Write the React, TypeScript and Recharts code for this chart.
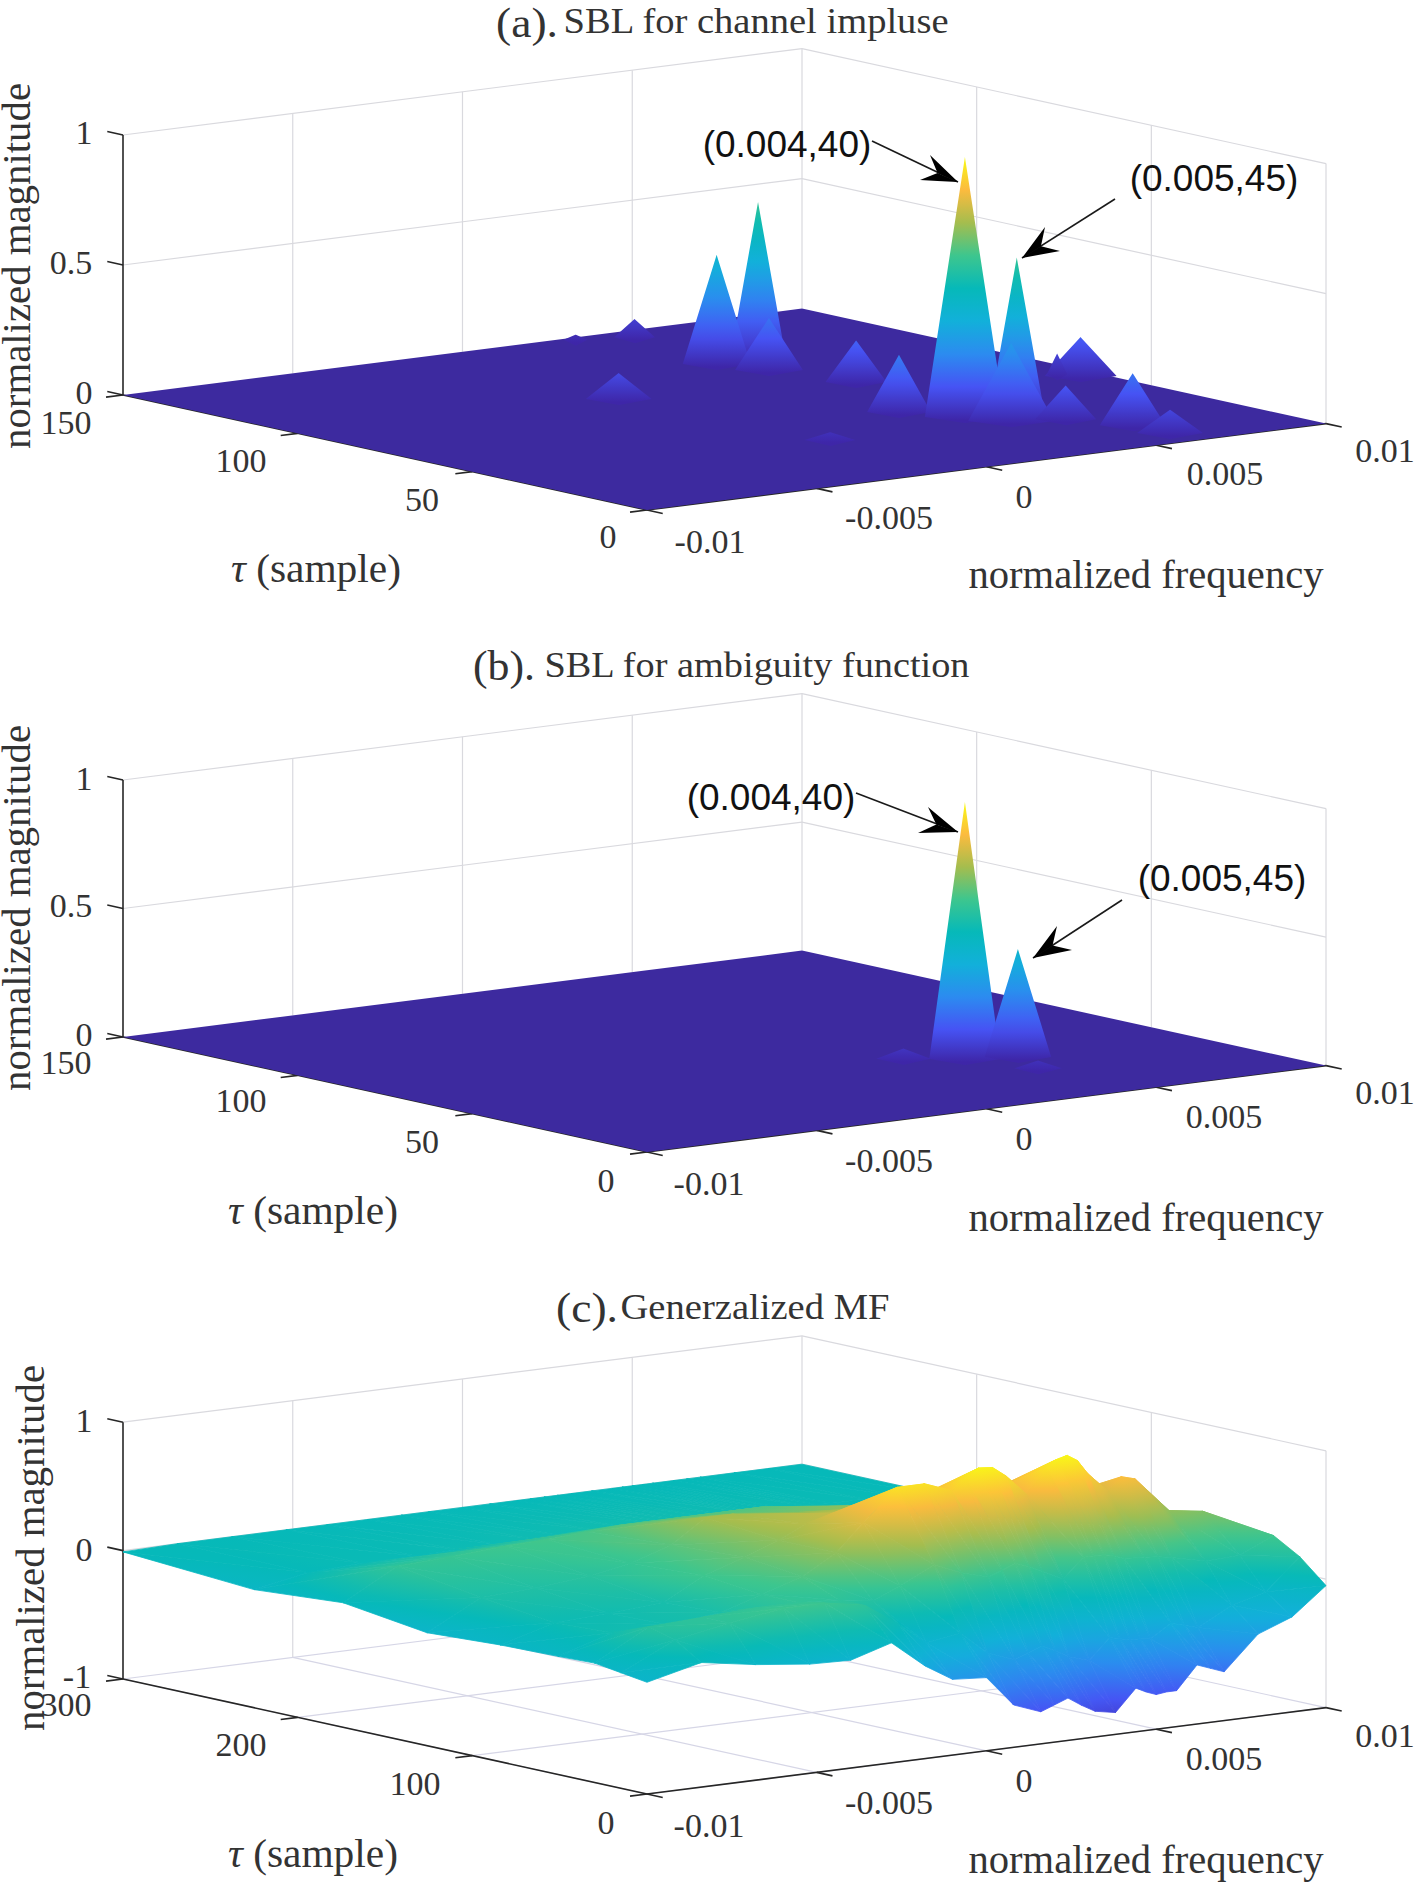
import { Area, ComposedChart, Line, ReferenceDot, XAxis, YAxis } from 'recharts'

const WIDTH = 1415
const HEIGHT = 1882

// tick values and labels
const freqTicks = [-0.01, -0.005, 0, 0.005, 0.01]
const freqLabels = ['-0.01', '-0.005', '0', '0.005', '0.01']
const tauTicksShort = [0, 50, 100, 150]
const tauLabelsShort = ['0', '50', '100', '150']
const tauTicksLong = [0, 100, 200, 300]
const tauLabelsLong = ['0', '100', '200', '300']

// peaks of panel (a)
const aPeakFreq = [0.00445, 0.00312, 0.00498, 0.0037, 0.00417, 0.00477, -0.0011, 0.00946, 0.00918, 0.00302, 0.00383, 0.0051, -0.00064, 0.00435, 0.00552, 0.00626, 0.00629]
const aPeakTau = [144, 148, 113.8, 113.2, 102.8, 83.7, 94.6, 65, 69, 54.4, 43.4, 40.9, 38.6, 35.2, 31, 19, 8.6]
const aPeakMag = [0.07, 0.02, 0.6, 0.42, 0.2, 0.16, 0.1, 0.15, 0.08, 0.22, 1, 0.6, 0.03, 0.3, 0.13, 0.2, 0.09]
const aPeakSpread = [0.0006, 0.00035, 0.00082, 0.001, 0.001, 0.0009, 0.00097, 0.00106, 0.0003, 0.00094, 0.00118, 0.00082, 0.00075, 0.00127, 0.0009, 0.00097, 0.00097]

// peaks of panel (b)
const bPeakFreq = [0.00383, 0.00499, 0.0027, 0.0044]
const bPeakTau = [43.4, 39.5, 50, 28]
const bPeakMag = [1, 0.42, 0.04, 0.03]
const bPeakSpread = [0.00105, 0.00098, 0.0008, 0.0007]

// surface of panel (c), one row of magnitudes per delay
const cFreq = [-0.01, -0.0084, -0.0068, -0.0052, -0.004, -0.0028, -0.0018, -0.001, 0, 0.0008, 0.0016, 0.002, 0.0024, 0.0028, 0.0032, 0.0038, 0.0044, 0.0047, 0.005, 0.0053, 0.0056, 0.0062, 0.0066, 0.007, 0.008, 0.009, 0.01]
const cTau = [300, 225, 174, 126, 84, 51, 30, 15, 0]
const cRow300 = [-0.01, 0, 0, 0, 0, 0, 0, 0, 0, 0, 0, 0, 0, 0, 0, 0, 0, 0, 0, 0, 0, 0, 0, 0, 0, 0, 0]
const cRow225 = [-0.08, 0, 0.02, 0.02, 0.03, 0.03, 0.04, 0.04, 0.05, 0.05, 0.05, 0.05, 0.05, 0.05, 0.05, 0.04, 0.04, 0.035, 0.03, 0.03, 0.03, 0.03, 0.025, 0.02, 0.02, 0.01, 0]
const cRow174 = [-0.03, 0.2, 0.22, 0.25, 0.26, 0.28, 0.3, 0.3, 0.3, 0.3, 0.3, 0.3, 0.3, 0.28, 0.25, 0.2, 0.18, 0.165, 0.15, 0.135, 0.12, 0.1, 0.09, 0.08, 0.05, 0.03, 0.02]
const cRow126 = [-0.12, 0.1, 0.12, 0.16, 0.22, 0.32, 0.5, 0.5, 0.45, 0.45, 0.42, 0.43, 0.45, 0.42, 0.4, 0.38, 0.38, 0.39, 0.4, 0.37, 0.35, 0.3, 0.27, 0.25, 0.18, 0.1, 0.05]
const cRow84 = [-0.09, 0.03, 0.05, 0.08, 0.25, 0.35, 0.45, 0.55, 0.6, 0.6, 0.6, 0.62, 0.65, 0.62, 0.6, 0.58, 0.62, 0.64, 0.66, 0.62, 0.58, 0.5, 0.47, 0.45, 0.3, 0.2, 0.15]
const cRow51 = [-0.08, 0.05, 0.06, 0.1, 0.2, 0.3, 0.45, 0.66, 0.9, 0.9, 0.82, 0.9, 0.97, 0.96, 0.88, 0.72, 0.9, 0.96, 0.98, 0.93, 0.82, 0.66, 0.76, 0.73, 0.45, 0.41, 0.22]
const cRow30 = [-0.07, 0.16, 0.18, 0.2, 0.2, 0.18, 0.14, 0.23, 0.36, 0.27, 0.21, 0.25, 0.29, 0.25, 0.2, 0.12, 0.27, 0.27, 0.27, 0.25, 0.22, 0.21, 0.2, 0.18, 0.12, 0.13, 0.25]
const cRow15 = [-0.1, 0.1, 0.18, 0.24, 0.24, 0.18, 0, -0.17, -0.13, -0.31, -0.39, -0.35, -0.31, -0.36, -0.42, -0.47, -0.31, -0.33, -0.35, -0.35, -0.36, -0.26, -0.29, -0.32, -0.18, -0.11, 0.13]
const cRow0 = [-0.13, -0.03, -0.1, -0.15, -0.16, -0.065, -0.28, -0.41, -0.43, -0.67, -0.75, -0.71, -0.67, -0.74, -0.8, -0.83, -0.66, -0.7, -0.73, -0.72, -0.72, -0.54, -0.58, -0.62, -0.36, -0.26, -0.05]
const cRows = [cRow300, cRow225, cRow174, cRow126, cRow84, cRow51, cRow30, cRow15, cRow0]

const PARULA = ['#3e26a8', '#4653f4', '#2c8bf0', '#12b0da', '#06b9b9', '#3dc68e', '#a5bd4e', '#fcbb3e', '#f9fb15']

function hex(c: string) {
  return [1, 3, 5].map((i) => parseInt(c.slice(i, i + 2), 16))
}

function parula(t: number) {
  const p = Math.min(Math.max(t, 0), 1) * (PARULA.length - 1)
  const i = Math.min(Math.floor(p), PARULA.length - 2)
  const a = hex(PARULA[i])
  const b = hex(PARULA[i + 1])
  const rgb = a.map((v, k) => Math.round(v + (b[k] - v) * (p - i)))
  return `rgb(${rgb.join(',')})`
}

type Pt = { x: number; y: number }

type Panel = {
  key: string
  offset: number
  zScale: number
  zFloor: number
  zTop: number
  tauMax: number
}

const panelA: Panel = { key: 'a', offset: 0, zScale: 260, zFloor: 0, zTop: 1, tauMax: 150 }
const panelB: Panel = { key: 'b', offset: 642, zScale: 257, zFloor: 0, zTop: 1, tauMax: 150 }
const panelC: Panel = { key: 'c', offset: 1284, zScale: 128.4, zFloor: -1, zTop: 1, tauMax: 300 }

// same fixed camera for the three axes, a linear map to the page
function project(p: Panel, freq: number, tau: number, z: number): Pt {
  const u = (freq + 0.01) / 0.02
  const v = tau / p.tauMax
  return {
    x: 647 + 679 * u - 524 * v,
    y: 510 + p.offset - 86.4 * u - 115 * v - p.zScale * (z - p.zFloor),
  }
}

// range rows for an Area from the corners of a polygon
function band(poly: Pt[]) {
  const xs = Array.from(new Set(poly.map((c) => Math.round(c.x * 100) / 100))).sort((a, b) => a - b)
  return xs.map((x) => {
    const ys: number[] = []
    poly.forEach((a, i) => {
      const b = poly[(i + 1) % poly.length]
      const x0 = Math.min(a.x, b.x) - 0.006
      const x1 = Math.max(a.x, b.x) + 0.006
      if (x < x0 || x > x1) return
      if (Math.abs(a.x - b.x) < 0.01) ys.push(a.y, b.y)
      else ys.push(a.y + ((b.y - a.y) * (x - a.x)) / (b.x - a.x))
    })
    return { x, band: [Math.min(...ys), Math.max(...ys)] as [number, number] }
  })
}

function gridLines(p: Panel, tauTicks: number[], zLevels: number[], color: string) {
  const lines: { id: string; data: Pt[]; color: string; w: number }[] = []
  const add = (id: string, a: Pt, b: Pt, c = color, w = 1.2) => lines.push({ id: p.key + id, data: [a, b], color: c, w })
  const back = tauTicks[tauTicks.length - 1]
  zLevels.forEach((z) => {
    add('zf' + z, project(p, -0.01, back, z), project(p, 0.01, back, z))
    add('zt' + z, project(p, 0.01, back, z), project(p, 0.01, 0, z))
  })
  freqTicks.slice(1).forEach((f) => add('vf' + f, project(p, f, back, p.zFloor), project(p, f, back, p.zTop)))
  tauTicks.slice(0, -1).forEach((t) => add('vt' + t, project(p, 0.01, t, p.zFloor), project(p, 0.01, t, p.zTop)))
  return lines
}

function floorGrid(p: Panel, tauTicks: number[]) {
  const c = '#d6d6e6'
  const lines: { id: string; data: Pt[]; color: string; w: number }[] = []
  const back = tauTicks[tauTicks.length - 1]
  freqTicks.forEach((f) => lines.push({ id: p.key + 'gf' + f, data: [project(p, f, 0, p.zFloor), project(p, f, back, p.zFloor)], color: c, w: 1.2 }))
  tauTicks.forEach((t) => lines.push({ id: p.key + 'gt' + t, data: [project(p, -0.01, t, p.zFloor), project(p, 0.01, t, p.zFloor)], color: c, w: 1.2 }))
  return lines
}

function axisLines(p: Panel, tauTicks: number[], zTicks: number[]) {
  const c = '#262626'
  const back = tauTicks[tauTicks.length - 1]
  const lines: { id: string; data: Pt[]; color: string; w: number }[] = []
  const add = (id: string, a: Pt, b: Pt) => lines.push({ id: p.key + id, data: [a, b], color: c, w: 1.6 })
  add('zaxis', project(p, -0.01, back, p.zFloor), project(p, -0.01, back, p.zTop))
  add('taxis', project(p, -0.01, 0, p.zFloor), project(p, -0.01, back, p.zFloor))
  add('faxis', project(p, -0.01, 0, p.zFloor), project(p, 0.01, 0, p.zFloor))
  zTicks.forEach((z) => add('zt' + z, project(p, -0.01, back, z), project(p, -0.01, back * 1.03, z)))
  freqTicks.forEach((f) => add('ft' + f, project(p, f, 0, p.zFloor), project(p, f, -back * 0.03, p.zFloor)))
  tauTicks.forEach((t) => add('tt' + t, project(p, -0.01, t, p.zFloor), project(p, -0.0105, t, p.zFloor)))
  return lines
}

type Facet = { id: string; rows: ReturnType<typeof band>; stroke: boolean }
type Grad = { id: string; x1: number; y1: number; x2: number; y2: number; stops: string[] }

// one kite per peak: tip, two base corners level on the page, near corner
function peakFacets(p: Panel, freq: number[], tau: number[], mag: number[], spread: number[]) {
  const facets: Facet[] = []
  const grads: Grad[] = []
  freq.forEach((f, i) => {
    const tip = project(p, f, tau[i], mag[i])
    const foot = project(p, f, tau[i], 0)
    const id = `peak-${p.key}-${i}`
    const stops = Array.from({ length: 9 }, (_, k) => parula(mag[i] * (1 - k / 8)))
    grads.push({ id, x1: 0, y1: tip.y, x2: 0, y2: foot.y + 3, stops })
    const df = spread[i] * 0.633
    const dt = (df / 0.02) * 0.75 * p.tauMax
    const poly = [
      tip,
      project(p, f + df, tau[i] - dt, 0),
      project(p, f - 0.0005, tau[i] - 5, 0),
      project(p, f - df, tau[i] + dt, 0),
    ]
    facets.push({ id, rows: band(poly), stroke: false })
  })
  return { facets, grads }
}

// triangle with z running linearly over the page, so neighbours join without a seam
function surfaceFacets(p: Panel) {
  const facets: Facet[] = []
  const grads: Grad[] = []
  const col = (z: number) => parula((z + 1) / 2)
  const tri = (id: string, pts: Pt[], zs: number[]) => {
    const [a, b, c] = pts
    const bx = b.x - a.x
    const by = b.y - a.y
    const cx = c.x - a.x
    const cy = c.y - a.y
    const det = bx * cy - by * cx
    if (Math.abs(det) < 1e-3) return
    const dzb = zs[1] - zs[0]
    const dzc = zs[2] - zs[0]
    const gx = (dzb * cy - dzc * by) / det
    const gy = (bx * dzc - cx * dzb) / det
    const g2 = gx * gx + gy * gy
    const lo = Math.min(...zs)
    const hi = Math.max(...zs)
    const flat = g2 < 1e-12
    const t0 = flat ? 0 : (lo - zs[0]) / g2
    const t1 = flat ? 0 : (hi - zs[0]) / g2
    grads.push({
      id,
      x1: a.x + gx * t0,
      y1: a.y + gy * t0,
      x2: flat ? a.x + 1 : a.x + gx * t1,
      y2: a.y + gy * t1,
      stops: [0, 0.25, 0.5, 0.75, 1].map((k) => col(lo + (hi - lo) * k)),
    })
    facets.push({ id, rows: band(pts), stroke: true })
  }
  for (let r = 0; r < cTau.length - 1; r++) {
    for (let c = cFreq.length - 2; c >= 0; c--) {
      const za = cRows[r][c]
      const zb = cRows[r][c + 1]
      const zd = cRows[r + 1][c + 1]
      const ze = cRows[r + 1][c]
      const a = project(p, cFreq[c], cTau[r], za)
      const b = project(p, cFreq[c + 1], cTau[r], zb)
      const d = project(p, cFreq[c + 1], cTau[r + 1], zd)
      const e = project(p, cFreq[c], cTau[r + 1], ze)
      tri(`tri-${r}-${c}-0`, [a, b, d], [za, zb, zd])
      tri(`tri-${r}-${c}-1`, [a, d, e], [za, zd, ze])
    }
  }
  return { facets, grads }
}

const floorPoly = (p: Panel) => [
  project(p, -0.01, 0, 0),
  project(p, 0.01, 0, 0),
  project(p, 0.01, p.tauMax, 0),
  project(p, -0.01, p.tauMax, 0),
]

const peaksA = peakFacets(panelA, aPeakFreq, aPeakTau, aPeakMag, aPeakSpread)
const peaksB = peakFacets(panelB, bPeakFreq, bPeakTau, bPeakMag, bPeakSpread)
const surfC = surfaceFacets(panelC)
const allGrads = [...peaksA.grads, ...peaksB.grads, ...surfC.grads]

const backLines = [
  ...gridLines(panelA, tauTicksShort, [0.5, 1], '#d9d9de'),
  ...gridLines(panelB, tauTicksShort, [0.5, 1], '#d9d9de'),
  ...gridLines(panelC, tauTicksLong, [0, 1], '#d9d9de'),
  ...floorGrid(panelC, tauTicksLong),
  ...axisLines(panelA, tauTicksShort, [0, 0.5, 1]),
  ...axisLines(panelB, tauTicksShort, [0, 0.5, 1]),
  ...axisLines(panelC, tauTicksLong, [-1, 0, 1]),
]

// annotation arrows: start, tip, two barbs
const arrows = [
  { id: 'a1', start: { x: 872, y: 141 }, tip: { x: 958, y: 182 }, b1: { x: 930, y: 155 }, b2: { x: 920, y: 180 } },
  { id: 'a2', start: { x: 1115, y: 199 }, tip: { x: 1022, y: 258 }, b1: { x: 1045, y: 227 }, b2: { x: 1060, y: 251 } },
  { id: 'b1', start: { x: 856, y: 793 }, tip: { x: 958, y: 832 }, b1: { x: 928, y: 807 }, b2: { x: 918, y: 833 } },
  { id: 'b2', start: { x: 1122, y: 900 }, tip: { x: 1033, y: 958 }, b1: { x: 1057, y: 926 }, b2: { x: 1072, y: 950 } },
]

type Txt = { t: string; x: number; y: number; size: number; len?: number; rot?: boolean; sans?: boolean; tau?: boolean }

const titleTexts: Txt[] = [
  { t: '(a).', x: 527, y: 23, size: 42, len: 62 },
  { t: 'SBL for channel impluse', x: 756, y: 21, size: 36, len: 385 },
  { t: '(b).', x: 504, y: 666, size: 42, len: 62 },
  { t: 'SBL for ambiguity function', x: 757, y: 665, size: 36, len: 425 },
  { t: '(c).', x: 587, y: 1308, size: 42, len: 62 },
  { t: 'Generzalized MF', x: 755, y: 1307, size: 36, len: 269 },
]

const axisTexts: Txt[] = [
  { t: 'normalized magnitude', x: 16, y: 266, size: 40, len: 366, rot: true },
  { t: 'normalized magnitude', x: 16, y: 908, size: 40, len: 366, rot: true },
  { t: 'normalized magnitude', x: 30, y: 1548, size: 40, len: 366, rot: true },
  { t: 'normalized frequency', x: 1146, y: 574, size: 40, len: 355 },
  { t: 'normalized frequency', x: 1146, y: 1217, size: 40, len: 355 },
  { t: 'normalized frequency', x: 1146, y: 1859, size: 40, len: 355 },
  { t: ' (sample)', x: 316, y: 568, size: 40, len: 170, tau: true },
  { t: ' (sample)', x: 313, y: 1210, size: 40, len: 170, tau: true },
  { t: ' (sample)', x: 313, y: 1853, size: 40, len: 170, tau: true },
]

const freqLabelPos = [
  [[710, 541], [889, 517], [1024, 496], [1225, 473], [1385, 450]],
  [[709, 1183], [889, 1160], [1024, 1138], [1224, 1116], [1385, 1092]],
  [[709, 1825], [889, 1802], [1024, 1780], [1224, 1758], [1385, 1735]],
]
const tauLabelPos = [
  [[608, 536], [422, 499], [241, 460], [66, 422]],
  [[606, 1180], [422, 1141], [241, 1100], [66, 1062]],
  [[606, 1822], [415, 1783], [241, 1744], [66, 1704]],
]

const tickTexts: Txt[] = [
  ...freqLabelPos.flatMap((row) => row.map(([x, y], i) => ({ t: freqLabels[i], x, y, size: 34 }))),
  ...tauLabelPos.slice(0, 2).flatMap((row) => row.map(([x, y], i) => ({ t: tauLabelsShort[i], x, y, size: 34 }))),
  ...tauLabelPos[2].map(([x, y], i) => ({ t: tauLabelsLong[i], x, y, size: 34 })),
  { t: '1', x: 84, y: 132, size: 34 },
  { t: '0.5', x: 71, y: 262, size: 34 },
  { t: '0', x: 84, y: 392, size: 34 },
  { t: '1', x: 84, y: 778, size: 34 },
  { t: '0.5', x: 71, y: 905, size: 34 },
  { t: '0', x: 84, y: 1034, size: 34 },
  { t: '1', x: 84, y: 1420, size: 34 },
  { t: '0', x: 84, y: 1549, size: 34 },
  { t: '-1', x: 77, y: 1676, size: 34 },
]

const noteTexts: Txt[] = [
  { t: '(0.004,40)', x: 787, y: 144, size: 37, sans: true },
  { t: '(0.005,45)', x: 1214, y: 178, size: 37, sans: true },
  { t: '(0.004,40)', x: 771, y: 797, size: 37, sans: true },
  { t: '(0.005,45)', x: 1222, y: 878, size: 37, sans: true },
]

const allTexts = [...titleTexts, ...axisTexts, ...tickTexts, ...noteTexts]

function renderFacet(f: Facet, i: number) {
  return (
    <Area
      key={f.id + '-' + i}
      data={f.rows}
      dataKey="band"
      type="linear"
      fill={`url(#${f.id})`}
      fillOpacity={1}
      stroke={f.stroke ? `url(#${f.id})` : 'none'}
      strokeWidth={f.stroke ? 0.8 : 0}
      dot={false}
      activeDot={false}
      isAnimationActive={false}
      zIndex={200}
    />
  )
}

export default function App() {
  return (
    <div style={{ position: 'absolute', left: 0, top: 0, width: WIDTH, height: HEIGHT, background: '#fff' }}>
      <ComposedChart width={WIDTH} height={HEIGHT} margin={{ top: 0, right: 0, bottom: 0, left: 0 }}>
        <defs>
          {allGrads.map((g) => (
            <linearGradient key={g.id} id={g.id} gradientUnits="userSpaceOnUse" x1={g.x1} y1={g.y1} x2={g.x2} y2={g.y2}>
              {g.stops.map((s, i) => (
                <stop key={i} offset={i / (g.stops.length - 1)} stopColor={s} />
              ))}
            </linearGradient>
          ))}
        </defs>
        <XAxis type="number" dataKey="x" domain={[0, WIDTH]} hide allowDataOverflow />
        <YAxis type="number" domain={[0, HEIGHT]} reversed hide width={0} allowDataOverflow />

        {backLines.map((l) => (
          <Line
            key={l.id}
            data={l.data}
            dataKey="y"
            stroke={l.color}
            strokeWidth={l.w}
            dot={false}
            activeDot={false}
            isAnimationActive={false}
            zIndex={100}
          />
        ))}

        {[panelA, panelB].map((p) => (
          <Area
            key={'floor' + p.key}
            data={band(floorPoly(p))}
            dataKey="band"
            type="linear"
            fill="#3d2a9f"
            fillOpacity={1}
            stroke="none"
            dot={false}
            activeDot={false}
            isAnimationActive={false}
            zIndex={150}
          />
        ))}

        {peaksA.facets.map(renderFacet)}
        {peaksB.facets.map(renderFacet)}
        {surfC.facets.map(renderFacet)}

        {arrows.map((a) => (
          <Line
            key={'shaft' + a.id}
            data={[a.start, a.tip]}
            dataKey="y"
            stroke="#1a1a1a"
            strokeWidth={1.6}
            dot={false}
            activeDot={false}
            isAnimationActive={false}
            zIndex={300}
          />
        ))}
        {arrows.flatMap((a) => {
          const notch = {
            x: a.tip.x + 0.62 * ((a.b1.x + a.b2.x) / 2 - a.tip.x),
            y: a.tip.y + 0.62 * ((a.b1.y + a.b2.y) / 2 - a.tip.y),
          }
          return [
            [a.tip, a.b1, notch],
            [a.tip, notch, a.b2],
          ].map((tri, i) => (
            <Area
              key={'head' + a.id + i}
              data={band(tri)}
              dataKey="band"
              type="linear"
              fill="#000"
              fillOpacity={1}
              stroke="none"
              dot={false}
              activeDot={false}
              isAnimationActive={false}
              zIndex={300}
            />
          ))
        })}

        {allTexts.map((t, i) => (
          <ReferenceDot
            key={i}
            x={t.x}
            y={t.y}
            r={0}
            ifOverflow="visible"
            shape={(s: { cx: number; cy: number }) => (
              <text
                x={s.cx}
                y={s.cy}
                textAnchor="middle"
                dominantBaseline="central"
                fontFamily={t.sans ? '"Liberation Sans", sans-serif' : '"Liberation Serif", serif'}
                fontSize={t.size}
                fill={t.sans ? '#111' : '#333'}
                textLength={t.len}
                lengthAdjust={t.len ? 'spacingAndGlyphs' : undefined}
                transform={t.rot ? `rotate(-90 ${s.cx} ${s.cy})` : undefined}
              >
                {t.tau ? <tspan fontStyle="italic">τ</tspan> : null}
                {t.t}
              </text>
            )}
          />
        ))}
      </ComposedChart>
    </div>
  )
}
